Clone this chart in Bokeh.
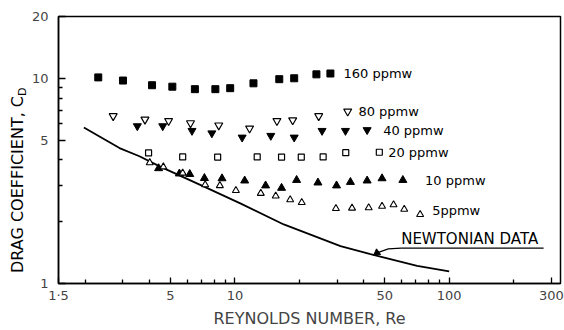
import math
from bokeh.plotting import figure
from bokeh.models import FixedTicker, Range1d
from bokeh.core.properties import value
from bokeh.embed import file_html
from bokeh.resources import INLINE

FONT = "DejaVu Sans"

# ---- data (Reynolds number, drag coefficient) ----
re_160 = [2.3, 3.0, 4.1, 5.1, 6.5, 8.1, 9.5, 12.2, 16.1, 18.9, 24.0, 27.9]
cd_160 = [10.1, 9.75, 9.25, 9.1, 8.85, 8.85, 8.95, 9.45, 9.9, 10.0, 10.45, 10.55]

re_80 = [2.7, 3.8, 4.9, 6.2, 8.4, 11.7, 15.7, 18.6, 24.6, 33.6]
cd_80 = [6.55, 6.3, 6.2, 6.05, 5.9, 5.7, 6.2, 6.25, 6.55, 6.9]

re_40 = [3.5, 4.6, 6.3, 7.8, 10.8, 14.7, 18.9, 25.5, 32.8, 41.4]
cd_40 = [5.85, 5.85, 5.55, 5.4, 5.15, 5.25, 5.15, 5.55, 5.55, 5.6]

re_20 = [3.95, 5.7, 8.3, 12.7, 16.5, 20.4, 25.8, 32.9, 47.2]
cd_20 = [4.33, 4.14, 4.13, 4.14, 4.13, 4.13, 4.14, 4.34, 4.36]

re_10 = [4.4, 5.5, 6.15, 7.2, 8.7, 11.1, 13.9, 16.5, 19.4, 24.4, 29.8, 34.6, 41.4, 48.6, 60.8]
cd_10 = [3.64, 3.43, 3.41, 3.26, 3.25, 3.17, 3.0, 2.92, 3.19, 3.1, 3.0, 3.12, 3.17, 3.25, 3.19]

re_5 = [4.0, 4.63, 5.7, 7.26, 8.5, 10.1, 13.2, 15.5, 18.1, 20.5, 29.6, 35.2, 42.1, 48.6, 55.0, 61.7, 73.2]
cd_5 = [3.88, 3.70, 3.45, 3.03, 3.0, 2.84, 2.75, 2.67, 2.56, 2.48, 2.32, 2.33, 2.34, 2.38, 2.42, 2.30, 2.17]

re_newt = [1.97, 2.89, 3.58, 4.5, 5.8, 7.3, 10.65, 16.9, 31.1, 42.9, 70.9, 100]
cd_newt = [5.76, 4.57, 4.17, 3.70, 3.28, 2.94, 2.45, 1.94, 1.52, 1.39, 1.22, 1.145]

series_labels = ["160 ppmw", "80 ppmw", "40 ppmw", "20 ppmw", "10 ppmw", "5ppmw"]
label_re = [32.1, 37.7, 49.2, 51.9, 77.2, 83.3]
label_cd = [10.57, 6.88, 5.58, 4.33, 3.18, 2.28]

newt_text = "NEWTONIAN DATA"
newt_re = 59.7
newt_cd = 1.64
underline_re = [59.7, 276]
underline_cd = 1.487
pointer_re = [59.7, 52, 46]
pointer_cd = [1.487, 1.475, 1.41]

# ---- axis ticks ----
x_label_ticks = [1.5, 5, 10, 50, 100, 300]
x_label_text = {1.5: "1·5", 5: "5", 10: "10", 50: "50", 100: "100", 300: "300"}
x_minor_ticks = [2, 3, 4, 6, 7, 8, 9, 20, 30, 40, 60, 70, 80, 90, 200]
y_major_ticks = [1, 5, 10, 20]
y_label_text = {1: "1", 5: "5", 10: "10", 20: "20"}
y_minor_ticks = [2, 3, 4, 6, 7, 8, 9]
y_title = "DRAG COEFFICIENT, C"
y_title_sub = "D"
y_title_top_cd = 8.2

p = figure(width=564, height=330, x_axis_type="log", y_axis_type="log",
           x_range=Range1d(1.5, 331), y_range=Range1d(1, 20),
           output_backend="svg", toolbar_location=None,
           min_border_left=58, min_border_right=4, min_border_top=16, min_border_bottom=42)
p.grid.visible = False
p.outline_line_color = "black"
p.outline_line_width = 1.5

p.xaxis.ticker = FixedTicker(ticks=x_label_ticks, minor_ticks=x_minor_ticks)
p.xaxis.major_label_overrides = x_label_text
p.xaxis.major_tick_in = 6
p.xaxis.major_tick_out = 0
p.xaxis.minor_tick_in = 4
p.xaxis.minor_tick_out = 0
p.xaxis.axis_line_width = 1.5
p.xaxis.major_tick_line_width = 1.3
p.xaxis.minor_tick_line_width = 1.3
p.xaxis.major_label_standoff = 4
p.xaxis.major_label_text_font = FONT
p.xaxis.major_label_text_font_size = "13px"
p.xaxis.axis_label = "REYNOLDS NUMBER, Re"
p.xaxis.axis_label_standoff = 3
p.xaxis.axis_label_text_font = FONT
p.xaxis.axis_label_text_font_size = "16px"
p.xaxis.axis_label_text_font_style = "normal"

p.yaxis.ticker = FixedTicker(ticks=y_major_ticks, minor_ticks=y_minor_ticks)
p.yaxis.major_label_overrides = y_label_text
p.yaxis.major_tick_in = 7
p.yaxis.major_tick_out = 0
p.yaxis.minor_tick_in = 4
p.yaxis.minor_tick_out = 0
p.yaxis.axis_line_width = 1.5
p.yaxis.major_tick_line_width = 1.3
p.yaxis.minor_tick_line_width = 1.3
p.yaxis.major_label_standoff = 10
p.yaxis.major_label_text_font = FONT
p.yaxis.major_label_text_font_size = "13px"

# y-axis title with subscript D (text glyphs drawn outside the frame clip)
p.text(x=[1.5], y=[y_title_top_cd], text=[y_title], angle=math.pi / 2, x_offset=-41,
       text_align="right", text_baseline="middle", text_font=value(FONT),
       text_font_size="16px", text_color="black", level="annotation")
p.text(x=[1.5], y=[y_title_top_cd], text=[y_title_sub], angle=math.pi / 2, x_offset=-36,
       text_align="left", text_baseline="middle", text_font=value(FONT),
       text_font_size="11px", text_color="black", level="annotation")

# data
p.line(re_newt, cd_newt, line_width=1.8, color="black")
p.scatter(re_160, cd_160, marker="square", size=7, color="black")
p.scatter(re_80, cd_80, marker="inverted_triangle", size=8, fill_color="white", line_color="black", line_width=1.2)
p.scatter(re_40, cd_40, marker="inverted_triangle", size=8, color="black")
p.scatter(re_20, cd_20, marker="square", size=6, fill_color="white", line_color="black", line_width=1.2)
p.scatter(re_10, cd_10, marker="triangle", size=8, color="black")
p.scatter(re_5, cd_5, marker="triangle", size=7, fill_color="white", line_color="black", line_width=1.1)

p.text(x=label_re, y=label_cd, text=series_labels, text_font=value(FONT), text_font_size="13px",
       text_baseline="middle", text_align="left", text_color="black")

p.text(x=[newt_re], y=[newt_cd], text=[newt_text], text_font=value(FONT), text_font_size="15px",
       text_baseline="middle", text_align="left", text_color="black")
p.line(underline_re, [underline_cd, underline_cd], line_width=1.3, color="black")
p.line(pointer_re, pointer_cd, line_width=1.2, color="black")
p.scatter([pointer_re[-1]], [pointer_cd[-1]], marker="triangle", size=7, angle=2.2, color="black")

open("out.html", "w").write(file_html(p, INLINE))
